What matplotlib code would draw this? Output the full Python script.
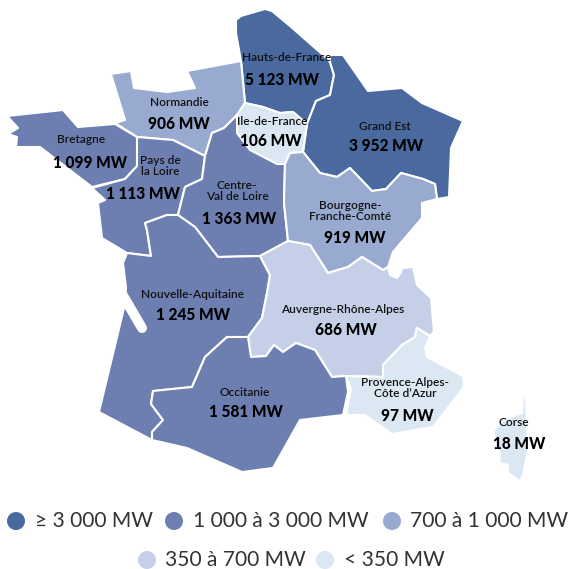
import matplotlib
matplotlib.use('Agg')
import matplotlib.pyplot as plt
from matplotlib.patches import Polygon, Circle

# region names and installed capacity
regions = ['Hauts-de-France', 'Grand Est', 'Normandie', 'Ile-de-France', 'Bretagne',
           'Pays de la Loire', 'Centre-Val de Loire', 'Bourgogne-Franche-Comté',
           'Nouvelle-Aquitaine', 'Auvergne-Rhône-Alpes', 'Occitanie',
           'Provence-Alpes-Côte d\'Azur', 'Corse']
mw = [5123, 3952, 906, 106, 1099, 1113, 1363, 919, 1245, 686, 1581, 97, 18]
value_labels = ['5 123 MW', '3 952 MW', '906 MW', '106 MW', '1 099 MW', '1 113 MW', '1 363 MW',
                '919 MW', '1 245 MW', '686 MW', '1 581 MW', '97 MW', '18 MW']
name_labels = ['Hauts-de-France', 'Grand Est', 'Normandie', 'Ile-de-France', 'Bretagne',
               'Pays de\nla Loire', 'Centre-\nVal de Loire', 'Bourgogne-\nFranche-Comté',
               'Nouvelle-Aquitaine', 'Auvergne-Rhône-Alpes', 'Occitanie',
               'Provence-Alpes-\nCôte d’Azur', 'Corse']

# legend classes
thresholds = [3000, 1000, 700, 350, 0]
class_colors = ['#49699f', '#6d7fb1', '#98aad0', '#c5d0e8', '#dce7f4']
class_labels = ['≥ 3 000 MW', '1 000 à 3 000 MW', '700 à 1 000 MW', '350 à 700 MW', '< 350 MW']

outlines = {
    'Hauts-de-France': [(236, 20), (241, 16), (265, 9), (272, 11), (290, 26), (323, 55), (330, 62), (334, 75),
                        (330, 95), (316, 101), (307, 124), (293, 112), (280, 113), (263, 107), (245, 103),
                        (241, 61), (236, 33)],
    'Grand Est': [(330, 55), (343, 55), (368, 91), (402, 88), (422, 103), (463, 121), (451, 148), (449, 197),
                  (437, 199), (435, 184), (423, 179), (401, 173), (386, 189), (372, 191), (350, 168), (337, 177),
                  (320, 173), (303, 152), (307, 124), (316, 101), (330, 95), (334, 75), (330, 62)],
    'Normandie': [(111, 74), (131, 71), (134, 88), (167, 92), (195, 88), (187, 71), (241, 61), (245, 103),
                  (237, 115), (224, 128), (212, 133), (205, 156), (173, 140), (137, 137), (115, 123), (125, 120)],
    'Ile-de-France': [(245, 103), (263, 107), (280, 113), (293, 112), (307, 124), (303, 152), (290, 153),
                      (285, 164), (277, 164), (250, 150), (237, 133), (237, 115)],
    'Bretagne': [(7, 116), (63, 110), (78, 127), (115, 124), (137, 137), (137, 166), (125, 179), (92, 187),
                 (40, 147), (16, 147), (17, 137), (8, 134), (18, 128)],
    'Pays de la Loire': [(137, 137), (173, 140), (205, 156), (202, 179), (185, 187), (178, 215), (167, 215),
                         (145, 223), (147, 230), (151, 256), (127, 253), (102, 238), (98, 203), (105, 200),
                         (92, 188), (125, 179), (137, 166)],
    'Centre-Val de Loire': [(212, 133), (224, 128), (237, 115), (237, 133), (250, 150), (277, 164), (285, 164),
                            (284, 203), (288, 241), (260, 256), (218, 257), (195, 227), (178, 215), (185, 187),
                            (202, 179), (205, 156)],
    'Bourgogne-Franche-Comté': [(290, 153), (303, 152), (320, 173), (337, 177), (350, 168), (372, 191), (386, 189),
                                (401, 173), (423, 179), (435, 184), (437, 199), (422, 203), (422, 218), (393, 252),
                                (388, 267), (383, 270), (362, 257), (348, 267), (328, 273), (310, 245), (288, 241),
                                (284, 203), (285, 164)],
    'Nouvelle-Aquitaine': [(145, 223), (167, 215), (178, 215), (195, 227), (218, 257), (260, 256), (270, 275),
                           (267, 293), (262, 318), (248, 337), (227, 337), (205, 357), (192, 387), (153, 391),
                           (151, 404), (163, 420), (152, 432), (152, 440), (99, 412), (124, 308), (126, 288),
                           (123, 263), (127, 253), (151, 256), (147, 230)],
    'Auvergne-Rhône-Alpes': [(260, 256), (288, 241), (310, 245), (328, 273), (348, 267), (362, 257), (383, 270),
                             (388, 267), (390, 275), (397, 278), (401, 272), (402, 268), (413, 267), (417, 285),
                             (431, 298), (434, 332), (430, 336), (417, 328), (415, 337), (402, 345), (383, 365),
                             (383, 377), (346, 376), (332, 377), (315, 350), (296, 343), (283, 352), (274, 345),
                             (266, 356), (251, 357), (248, 337), (262, 318), (267, 293), (270, 275)],
    'Occitanie': [(248, 337), (251, 357), (266, 356), (274, 345), (283, 352), (296, 343), (315, 350), (332, 377),
                  (346, 376), (348, 392), (343, 415), (300, 420), (273, 468), (242, 472), (187, 448), (152, 440),
                  (152, 432), (163, 420), (151, 404), (153, 391), (192, 387), (205, 357), (227, 337)],
    'Provence-Alpes-Côte d\'Azur': [(346, 376), (383, 377), (383, 365), (402, 345), (415, 337), (417, 328),
                                    (430, 336), (425, 348), (427, 357), (463, 376), (464, 387), (433, 427),
                                    (392, 434), (365, 415), (346, 415), (351, 389)],
    'Corse': [(523, 397), (526, 398), (528, 450), (523, 475), (520, 481), (508, 473), (508, 465), (499, 463),
              (500, 455), (493, 432), (503, 420), (522, 413)],
}

# label centres: name x, name y, value x, value y
label_pos = {
    'Hauts-de-France': (287, 57, 282, 80),
    'Grand Est': (385, 126, 386, 146),
    'Normandie': (179, 102, 179, 124),
    'Ile-de-France': (272, 121, 271, 141),
    'Bretagne': (81, 139, 90, 163),
    'Pays de la Loire': (160, 166, 143, 194),
    'Centre-Val de Loire': (237, 191, 239, 219),
    'Bourgogne-Franche-Comté': (350, 211, 355, 238),
    'Nouvelle-Aquitaine': (193, 294, 193, 315),
    'Auvergne-Rhône-Alpes': (343, 309, 346, 330),
    'Occitanie': (245, 392, 246, 412),
    'Provence-Alpes-Côte d\'Azur': (405, 388, 407, 416),
    'Corse': (514, 422, 519, 444),
}

legend_rows = [(16, 521, 35), (174, 521, 193), (392, 521, 410), (147, 560, 165), (325, 560, 344)]

fig = plt.figure(figsize=(5.70, 5.69), dpi=100)
ax = fig.add_axes([0, 0, 1, 1])
ax.set_xlim(0, 570)
ax.set_ylim(569, 0)
ax.axis('off')


def color_for(v):
    for t, c in zip(thresholds, class_colors):
        if v >= t:
            return c


for name, v in zip(regions, mw):
    ax.add_patch(Polygon(outlines[name], closed=True, facecolor=color_for(v), edgecolor='white',
                         linewidth=1.5, joinstyle='round'))

# bassin d'Arcachon
ax.plot([118, 142], [287, 328], color='white', linewidth=7.2, solid_capstyle='round')

for name, nl, vl in zip(regions, name_labels, value_labels):
    x1, y1, x2, y2 = label_pos[name]
    ax.text(x1, y1, nl, ha='center', va='center', fontsize=8.6, color='#111111', family='Lato',
            fontweight='semibold', linespacing=1.05)
    ax.text(x2, y2, vl, ha='center', va='center', fontsize=11.2, color='black', fontweight='black', family='Lato')

for (cx, cy, tx), c, lab in zip(legend_rows, class_colors, class_labels):
    ax.add_patch(Circle((cx, cy), 9, facecolor=c, edgecolor='none'))
    ax.text(tx, cy, lab, ha='left', va='center', fontsize=15.1, color='#333333', family='Lato', fontweight='normal')

fig.savefig('out.png', dpi=100)
